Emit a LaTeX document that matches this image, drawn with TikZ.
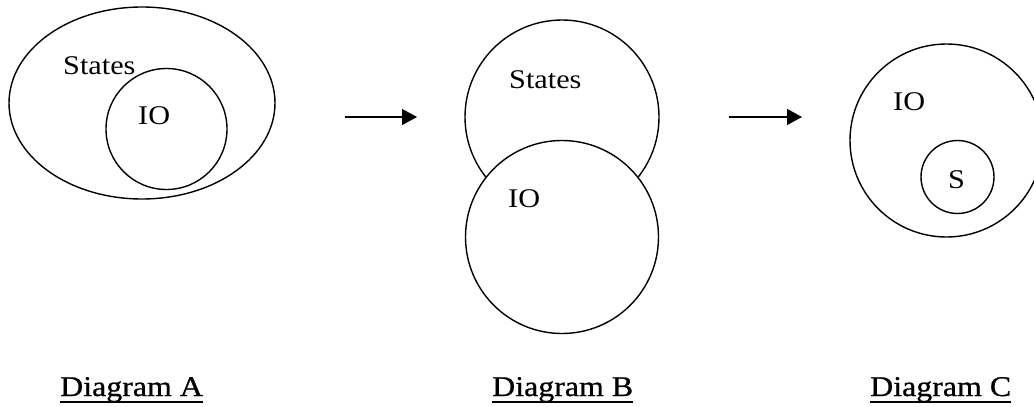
\documentclass[tikz,border=0pt]{standalone}
\usepackage{fontspec}
\setmainfont{Liberation Serif}[FakeStretch=1.12]
\newfontfamily\lblfont{Liberation Serif}[FakeStretch=1.12,FakeBold=0.8]
\usetikzlibrary{shapes.geometric,arrows.meta}
\tikzset{
  ring/.style={circle, draw, line width=1.4pt, inner sep=0pt},
  oval/.style={ellipse, draw, line width=1.4pt, inner sep=0pt},
  txt/.style={anchor=base west, inner sep=0pt, font=\fontsize{27}{30}\selectfont},
  lbl/.style={anchor=base west, inner sep=0pt, font=\lblfont\fontsize{28.5}{32}\selectfont},
  uline/.style={line width=2.4pt},
  arr/.style={line width=1.4pt, -{Triangle[length=15pt,width=16pt]}}
}
\begin{document}
\begin{tikzpicture}[x=1pt,y=-1pt]
\clip (0,0) rectangle (1034,407);
\fill[white] (0,0) rectangle (1034,407);
% Diagram A
\node[oval, minimum width=266pt, minimum height=192pt] (aOuter) at (142,103) {};
\node[ring, minimum size=121pt] (aInner) at (166.5,129) {};
\node[txt] (aStates) at (63,74) {States};
\node[txt] (aIO) at (138,124) {IO};
% Diagram B
\node[ring, minimum size=194pt] (bTop) at (562,117) {};
\node[ring, fill=white, minimum size=193pt] (bBot) at (562,237) {};
\node[txt] (bStates) at (509,88) {States};
\node[txt] (bIO) at (508,207) {IO};
% Diagram C
\node[ring, minimum size=193pt] (cOuter) at (946.5,140.5) {};
\node[ring, minimum size=73pt] (cInner) at (957.5,177) {};
\node[txt] (cIO) at (893,110) {IO};
\node[txt] (cS) at (948,188) {S};
% arrows
\coordinate (a1s) at (345,117);
\coordinate (a1e) at (417,117);
\coordinate (a2s) at (729,117);
\coordinate (a2e) at (802,117);
\draw[arr] (a1s) -- (a1e);
\draw[arr] (a2s) -- (a2e);
% labels
\node[lbl] (lA) at (60,396) {Diagram A};
\node[lbl] (lB) at (492,396) {Diagram B};
\node[lbl] (lC) at (870,396) {Diagram C};
\foreach \n in {lA,lB,lC}
  \draw[uline] ([yshift=-6pt]\n.base west) -- ([yshift=-6pt]\n.base east);
\end{tikzpicture}
\end{document}
